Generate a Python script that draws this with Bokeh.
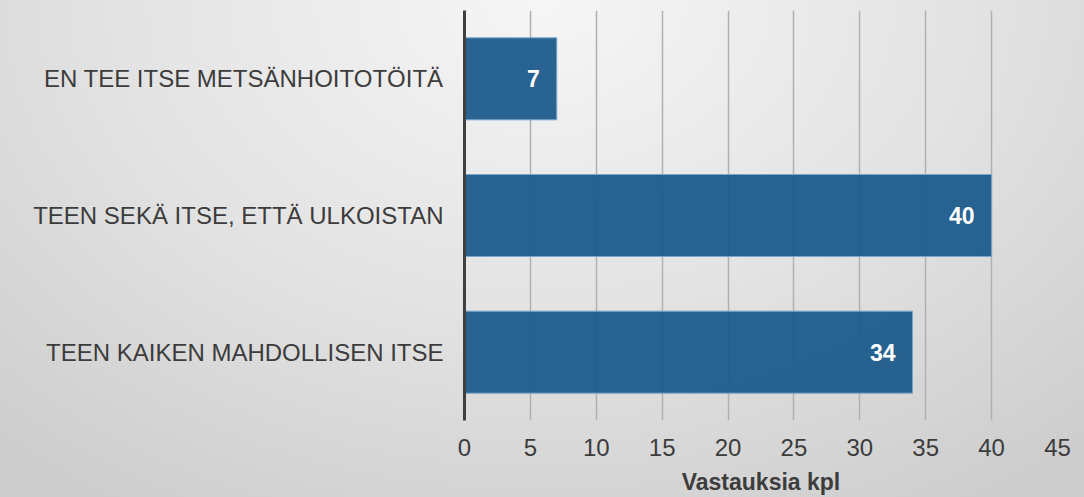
from bokeh.plotting import figure
from bokeh.models import ColumnDataSource, Range1d, FactorRange
from bokeh.core.properties import value
from bokeh.embed import file_html
from bokeh.resources import INLINE

categories = ["TEEN KAIKEN MAHDOLLISEN ITSE", "TEEN SEKÄ ITSE, ETTÄ ULKOISTAN", "EN TEE ITSE METSÄNHOITOTÖITÄ"]
counts = [34, 40, 7]
x_ticks = [0, 5, 10, 15, 20, 25, 30, 35, 40, 45]
x_label = "Vastauksia kpl"

FONT = "Liberation Sans"
TXT = "#3c3c3c"

src = ColumnDataSource(dict(cat=categories, n=counts, lab=[str(v) for v in counts]))

p = figure(y_range=FactorRange(factors=categories, range_padding=0), x_range=Range1d(0, 45),
           frame_width=593, frame_height=410,
           min_border_left=464, min_border_right=20, min_border_top=10, min_border_bottom=76,
           output_backend="svg", toolbar_location=None)
p.background_fill_alpha = 0
p.border_fill_alpha = 0
p.outline_line_color = None

p.hbar(y="cat", right="n", left=0, height=0.6, source=src,
       fill_color="#1d5b8b", fill_alpha=0.95, line_color="#7aa6cc", line_width=1)
p.text(x="n", y="cat", text="lab", source=src, text_align="right", text_baseline="middle",
       x_offset=-17, text_color="white", text_font=value(FONT), text_font_style="bold",
       text_font_size="23px")

p.xgrid.ticker = x_ticks
p.xgrid.grid_line_color = "#b0b0b0"
p.xgrid.grid_line_width = 1.5
p.ygrid.grid_line_color = None

xa = p.xaxis[0]
xa.ticker = x_ticks
xa.axis_line_color = None
xa.major_tick_line_color = None
xa.minor_tick_line_color = None
xa.major_label_standoff = 12
xa.major_label_text_font = FONT
xa.major_label_text_font_size = "24px"
xa.major_label_text_color = TXT
xa.axis_label = x_label
xa.axis_label_standoff = 10
xa.axis_label_text_font = FONT
xa.axis_label_text_font_size = "23px"
xa.axis_label_text_font_style = "bold"
xa.axis_label_text_color = TXT

ya = p.yaxis[0]
ya.axis_line_color = "#404040"
ya.axis_line_width = 3
ya.major_tick_line_color = None
ya.minor_tick_line_color = None
ya.major_label_standoff = 15
ya.major_label_text_font = FONT
ya.major_label_text_font_size = "24px"
ya.major_label_text_color = TXT

html = file_html(p, INLINE)
html = html.replace("<head>", "<head><style>html{min-height:100%;background:radial-gradient(ellipse 75% 120% at 50% 0%, #f6f6f6 0%, #e2e2e2 55%, #cdcdcd 100%);}body{background:transparent;}</style>", 1)
open("out.html", "w").write(html)
